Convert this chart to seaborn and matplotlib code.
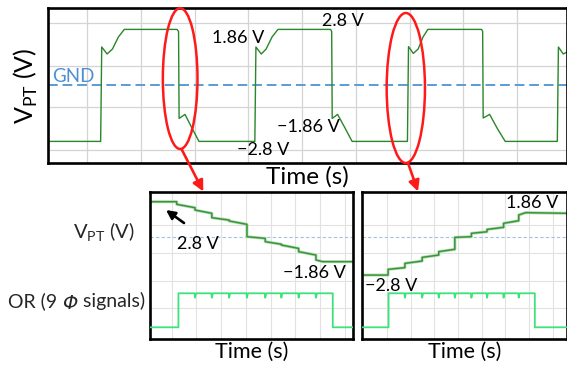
import matplotlib.pyplot as plt
import seaborn as sns
from matplotlib.patches import Ellipse, FancyArrowPatch

# ---- main scope trace (time in divisions, V_PT in volts) ----
main_t = [-0.73, 0.25, 0.27, 0.37, 0.47, 0.58, 0.69, 1.67, 1.70, 1.71, 1.82, 1.95, 2.08,
          3.12, 3.14, 3.24, 3.33, 3.44, 3.55, 4.53, 4.55, 4.56, 4.66, 4.80, 4.93,
          5.96, 5.98, 6.07, 6.16, 6.25, 6.34, 7.34, 7.36, 7.37, 7.49, 7.63, 7.78,
          8.75, 8.77, 8.86, 8.93]
main_v = [-2.82, -2.82, 1.90, 1.55, 1.80, 2.40, 2.78, 2.78, 2.68, -1.67, -1.47, -2.16, -2.82,
          -2.82, 1.90, 1.55, 1.80, 2.40, 2.78, 2.78, 2.68, -1.67, -1.47, -2.16, -2.82,
          -2.82, 1.92, 1.58, 1.80, 2.40, 2.78, 2.78, 2.68, -1.65, -1.47, -2.16, -2.82,
          -2.82, 1.90, 1.55, 1.65]
main_xgrid = [0, 1, 2, 3, 4, 5, 6, 7, 8]
main_ygrid = [3.08, 0.97, -1.12, -3.25]

# ---- inset 1: falling staircase 2.8 V -> -1.86 V ----
fall_start = 2.69
fall_t = [0.20, 0.94, 1.62, 2.32, 3.04, 3.78, 4.43, 5.13, 5.83]
fall_top = [2.49, 2.05, 1.46, 1.21, 0.0, -0.38, -0.64, -1.15, -1.79]
fall_end = [2.23, 1.80, 1.28, 0.95, -0.13, -0.58, -0.90, -1.41, -1.92]
fall_settle = 6.10
or1_rise, or1_fall = 0.27, 6.51

# ---- inset 2: rising staircase -2.8 V -> 1.86 V ----
rise_start = -2.95
rise_t = [0.04, 0.75, 1.48, 2.18, 2.86, 3.56, 4.22, 4.92, 5.56]
rise_top = [-2.51, -2.05, -1.59, -1.15, -0.05, 0.26, 0.56, 1.03, 1.67]
rise_end = [-2.38, -1.87, -1.41, -0.97, 0.0, 0.38, 0.72, 1.23, 1.85]
rise_settle = 5.85
rise_last = 1.80
or2_rise, or2_fall = 0.06, 6.24

inset_xgrid = [0, 1, 2, 3, 4, 5, 6, 7]
inset_ygrid = [0.90, -1.23, -3.38, -5.51]
or_glitch = 0.13

W, H = 567, 367


def px(x, y):
    return x / W, 1 - y / H


def staircase(t0, v0, steps, tops, ends, settle, t1, v1):
    ts, vs = [t0], [v0]
    for i, t in enumerate(steps):
        nxt = steps[i + 1] if i + 1 < len(steps) else settle
        ts += [t, t, nxt]
        vs += [vs[-1], tops[i], ends[i]]
    ts.append(t1)
    vs.append(v1)
    return ts, vs


def or_trace(t0, rise, fall, t1, glitches):
    ts, vs = [t0, rise, rise], [0, 0, 1]
    for g in glitches:
        ts += [g - 0.02, g, g + 0.04]
        vs += [1, 1 - or_glitch, 1]
    ts += [fall, fall, t1]
    vs += [1, 0, 0]
    return ts, vs


sns.set_theme(style='white')
plt.rcParams['font.family'] = ['Lato', 'DejaVu Sans']
plt.rcParams['mathtext.fontset'] = 'custom'
plt.rcParams['mathtext.rm'] = 'Lato'
plt.rcParams['mathtext.fallback'] = 'stixsans'

fig = plt.figure(figsize=(5.67, 3.67), dpi=100)


def scope_axes(rect, xlim, ylim, xgrid, ygrid, gcol, glw):
    ax = fig.add_axes(rect)
    ax.set_xlim(*xlim)
    ax.set_ylim(*ylim)
    ax.set_xticks(xgrid)
    ax.set_yticks(ygrid)
    ax.tick_params(length=0, labelbottom=False, labelleft=False)
    ax.grid(True, color=gcol, lw=glw)
    for s in ax.spines.values():
        s.set_color('black')
        s.set_linewidth(1.9)
    return ax


# main panel
ax = scope_axes([48 / W, 1 - 163 / H, 519 / W, 155 / H], (-0.73, 8.93), (-3.9, 3.85),
                main_xgrid, main_ygrid, '#d4d4d4', 0.9)
ax.axhline(0, color='#5b9bd5', lw=1.4, ls=(0, (5, 2.5)))
sns.lineplot(x=main_t, y=main_v, ax=ax, color='#2a862a', linewidth=1.0,
             estimator=None, sort=False, legend=False)
ax.set_xlabel('Time (s)', fontsize=17.5, labelpad=2, color='black', visible=True)
ax.set_ylabel('V$_{\\mathrm{PT}}$ (V)', fontsize=18, labelpad=6, color='black', visible=True)
ax.add_patch(Ellipse((1.73, 0.32), 0.645, 7.04, fill=False, ec='#ff1a1a', lw=1.8, clip_on=False, zorder=5))
ax.add_patch(Ellipse((5.93, -0.15), 0.713, 7.5, fill=False, ec='#ff1a1a', lw=1.8, clip_on=False, zorder=5))

# insets
ins_ylim = (-7.89, 3.415)
or_ylim = (-0.353, 3.97)
ax1 = scope_axes([150 / W, 1 - 339.3 / H, 203.3 / W, 147 / H], (-0.88, 7.34), ins_ylim,
                 inset_xgrid, inset_ygrid, '#e2e2e2', 0.8)
ax2 = scope_axes([362.3 / W, 1 - 339.3 / H, 204.7 / W, 147 / H], (-1.05, 7.6), ins_ylim,
                 inset_xgrid, inset_ygrid, '#e2e2e2', 0.8)

t1, v1 = staircase(-0.88, fall_start, fall_t, fall_top, fall_end, fall_settle, 7.34, fall_end[-1])
t2, v2 = staircase(-1.05, rise_start, rise_t, rise_top, rise_end, rise_settle, 7.6, rise_last)
o1t, o1v = or_trace(-0.88, or1_rise, or1_fall, 7.34, fall_t[1:])
o2t, o2v = or_trace(-1.05, or2_rise, or2_fall, 7.6, rise_t[1:])

for a, (ts, vs), (ot, ov) in [(ax1, (t1, v1), (o1t, o1v)), (ax2, (t2, v2), (o2t, o2v))]:
    a.axhline(0, color='#9dc3e6', lw=0.8, ls=(0, (3, 2)))
    sns.lineplot(x=ts, y=vs, ax=a, color='#b5ddb5', linewidth=2.2,
                 estimator=None, sort=False, legend=False)
    sns.lineplot(x=ts, y=vs, ax=a, color='#3a953a', linewidth=1.1,
                 estimator=None, sort=False, legend=False)
    a.set_xlabel('Time (s)', fontsize=15.5, labelpad=2, color='black', visible=True)
    a.set_ylabel('')
    b = a.twinx()
    b.set_ylim(*or_ylim)
    b.set_yticks([])
    for s in b.spines.values():
        s.set_visible(False)
    sns.lineplot(x=ot, y=ov, ax=b, color='#3ee27c', linewidth=1.3,
                 estimator=None, sort=False, legend=False)
    b.set_ylabel('')

# value labels
txt = dict(fontsize=13, color='black', va='center', ha='left')
fig.text(*px(212, 38), '1.86 V', **txt)
fig.text(*px(322, 21), '2.8 V', **txt)
fig.text(*px(277, 127), '\u22121.86 V', **txt)
fig.text(*px(237, 150), '\u22122.8 V', **txt)
fig.text(*px(52, 76), 'GND', fontsize=13.5, color='#4f8fd0', va='center', ha='left')
fig.text(*px(177, 244), '2.8 V', **txt)
fig.text(*px(283, 273), '\u22121.86 V', **txt)
fig.text(*px(506, 203), '1.86 V', **txt)
fig.text(*px(365, 286), '\u22122.8 V', **txt)
fig.text(*px(135, 232), 'V$_{\\mathrm{PT}}$ (V)', fontsize=14.5, ha='right', va='center')

# "OR (9 Φ signals)" with an oblique Φ, pieces chained left to right
or_a = fig.text(*px(8, 301), 'OR (9 ', fontsize=14, ha='left', va='center')
or_b = ax1.annotate('\u03a6', xy=(1, 0), xycoords=or_a, xytext=(0, -2.2),
                    textcoords='offset points', fontsize=14, ha='left', va='bottom',
                    fontfamily='DejaVu Sans', fontstyle='oblique', annotation_clip=False)
ax1.annotate(' signals)', xy=(1, 0), xycoords=or_b, xytext=(0, 2.2),
             textcoords='offset points', fontsize=14, ha='left', va='bottom',
             annotation_clip=False)

# arrows
for a0, a1 in [((182, 150), (203.3, 191.5)), ((408, 163), (418, 191.5))]:
    fig.add_artist(FancyArrowPatch(px(*a0), px(*a1), transform=fig.transFigure,
                                   arrowstyle='-|>', mutation_scale=16, lw=1.9,
                                   color='#ff1a1a', shrinkA=0, shrinkB=0, zorder=6))
fig.add_artist(FancyArrowPatch(px(184, 223), px(166, 210), transform=fig.transFigure,
                               arrowstyle='-|>', mutation_scale=13, lw=1.9,
                               color='black', shrinkA=0, shrinkB=0, zorder=6))

fig.savefig('out.png', dpi=100)
